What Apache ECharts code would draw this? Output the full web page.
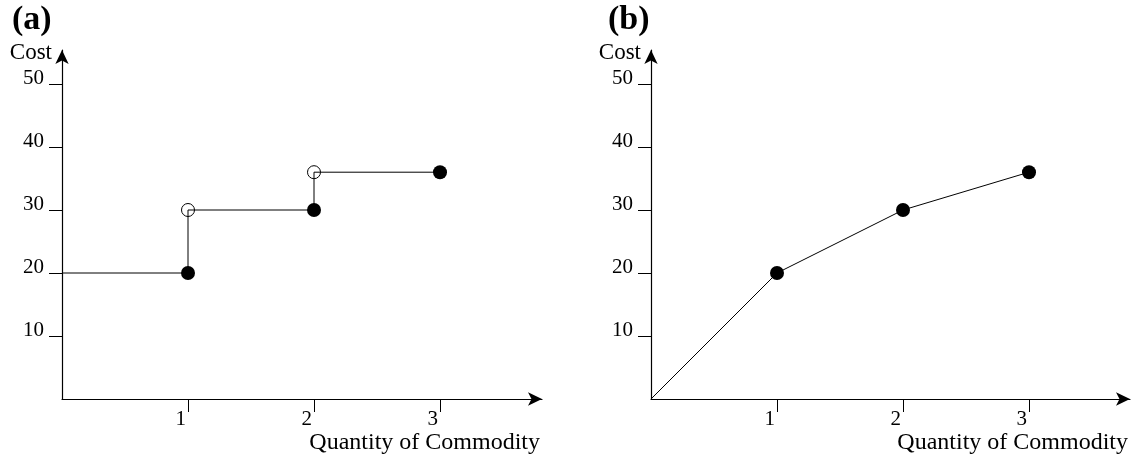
<!DOCTYPE html>
<html><head><meta charset="utf-8">
<script src="https://cdn.jsdelivr.net/npm/echarts@6/dist/echarts.min.js"></script>
<style>html,body{margin:0;padding:0;background:#fff}#c{width:1138px;height:461px}</style>
</head><body><div id="c"></div>
<script>
// ---- data ----
const xTicks = [1, 2, 3];
const yTicks = [10, 20, 30, 40, 50];
// panel (a): step cost function
const stepX = [0, 1, 1, 2, 2, 3];
const stepY = [20, 20, 30, 30, 36, 36];
const filledX_a = [1, 2, 3];
const filledY_a = [20, 30, 36];
const openX_a = [1, 2];
const openY_a = [30, 36];
// panel (b): concave cost function
const lineX_b = [0, 1, 2, 3];
const lineY_b = [0, 20, 30, 36];
const filledX_b = [1, 2, 3];
const filledY_b = [20, 30, 36];

const zip = (a, b) => a.map((v, i) => [v, b[i]]);
const FONT = 'Liberation Serif';
const chart = echarts.init(document.getElementById('c'), null, {renderer: 'canvas'});

function xAx(i, w) {
  return {
    gridIndex: i, type: 'value', min: 0, max: w / 126,
    name: 'Quantity of Commodity', nameLocation: 'end', nameGap: -2,
    nameTextStyle: {fontFamily: FONT, fontSize: 24, color: '#000', align: 'right', verticalAlign: 'top', padding: [32, 0, 0, 0]},
    axisLine: {show: true, onZero: false, symbol: ['none', 'arrow'], symbolSize: [10, 14], lineStyle: {color: '#000', width: 1.2}},
    axisTick: {show: true, customValues: xTicks, length: 13, lineStyle: {color: '#000', width: 1}},
    axisLabel: {customValues: xTicks, fontFamily: FONT, fontSize: 21, color: '#000', align: 'right', margin: 10, padding: [0, 2, 0, 0]},
    splitLine: {show: false}
  };
}
function yAx(i) {
  return {
    gridIndex: i, type: 'value', min: 0, max: 349 / 6.3,
    name: 'Cost', nameLocation: 'end', nameGap: -3,
    nameTextStyle: {fontFamily: FONT, fontSize: 23, color: '#000', align: 'right', verticalAlign: 'middle', padding: [0, 10, 0, 0]},
    axisLine: {show: true, onZero: false, symbol: ['none', 'arrow'], symbolSize: [10, 14], lineStyle: {color: '#000', width: 1.2}},
    axisTick: {show: true, customValues: yTicks, length: 13, lineStyle: {color: '#000', width: 1}},
    axisLabel: {customValues: yTicks, fontFamily: FONT, fontSize: 21, color: '#000', margin: 18, verticalAlign: 'bottom', lineHeight: 11},
    splitLine: {show: false}
  };
}
const filledStyle = {color: '#000', opacity: 1};
const openStyle = {color: 'rgba(0,0,0,0)', borderColor: '#000', borderWidth: 1, opacity: 1};

chart.setOption({
  animation: false,
  title: [
    {text: '(a)', left: 7, top: -2, textStyle: {fontFamily: FONT, fontWeight: 'bold', fontSize: 34, color: '#000'}},
    {text: '(b)', left: 603, top: -2, textStyle: {fontFamily: FONT, fontWeight: 'bold', fontSize: 34, color: '#000'}}
  ],
  grid: [
    {left: 62, top: 50, width: 480, height: 349},
    {left: 651, top: 50, width: 479, height: 349}
  ],
  xAxis: [xAx(0, 480), xAx(1, 479)],
  yAxis: [yAx(0), yAx(1)],
  series: [
    {type: 'line', xAxisIndex: 0, yAxisIndex: 0, data: zip(stepX, stepY), symbol: 'none', lineStyle: {color: '#000', width: 1}, z: 2},
    {type: 'scatter', xAxisIndex: 0, yAxisIndex: 0, data: zip(openX_a, openY_a), symbol: 'circle', symbolSize: 13, itemStyle: openStyle, z: 3},
    {type: 'scatter', xAxisIndex: 0, yAxisIndex: 0, data: zip(filledX_a, filledY_a), symbol: 'circle', symbolSize: 14, itemStyle: filledStyle, z: 3},
    {type: 'line', xAxisIndex: 1, yAxisIndex: 1, data: zip(lineX_b, lineY_b), symbol: 'none', lineStyle: {color: '#000', width: 1}, z: 2},
    {type: 'scatter', xAxisIndex: 1, yAxisIndex: 1, data: zip(filledX_b, filledY_b), symbol: 'circle', symbolSize: 14, itemStyle: filledStyle, z: 3}
  ]
});
</script></body></html>
